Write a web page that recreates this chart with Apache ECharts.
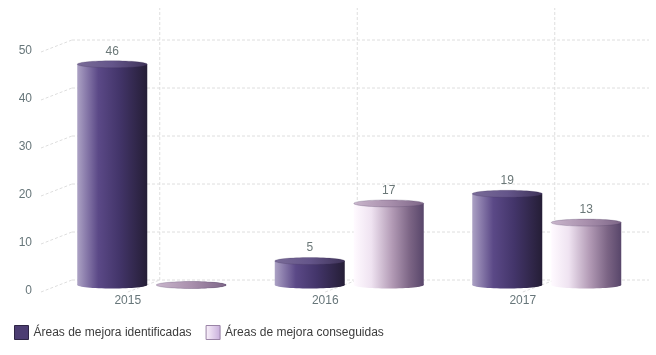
<!DOCTYPE html>
<html><head><meta charset="utf-8">
<script src="https://cdn.jsdelivr.net/npm/echarts@6/dist/echarts.min.js"></script>
<style>html,body{margin:0;padding:0;background:#fff}#c{width:656px;height:355px}</style>
</head><body><div id="c"></div>
<script>
const categories = ['2015', '2016', '2017'];
const identificadas = [46, 5, 19];
const conseguidas = [0, 17, 13];
const yTicks = [0, 10, 20, 30, 40, 50];
const seriesNames = ['Áreas de mejora identificadas', 'Áreas de mejora conseguidas'];

const FONT = '"Liberation Sans", Arial, sans-serif';
const DX = 31, DY = -11;            // depth offset of back wall
const GRID_LINE = {stroke: '#dedede', lineWidth: 1, lineDash: [3, 2]};

function grad(stops) {
  return new echarts.graphic.LinearGradient(0, 0, 1, 0, stops.map((c) => ({offset: c[0], color: c[1]})));
}
const body1 = () => grad([[0, '#aca2c4'], [0.12, '#8b7dac'], [0.3, '#5b4987'], [0.6, '#43356a'], [1, '#251e36']]);
const body2 = () => grad([[0, '#fffaff'], [0.25, '#efe3f1'], [0.55, '#b29ab5'], [0.8, '#7c6585'], [1, '#58466a']]);
const top1 = () => grad([[0, '#7a6c98'], [0.5, '#64558a'], [1, '#3e3358']]);
const top2 = () => grad([[0, '#c9b6cc'], [0.5, '#a990ad'], [1, '#7d6687']]);

function wallRender(params, api) {
  const cs = params.coordSys;
  const y = api.coord([0, api.value(0)])[1];
  const x0 = cs.x + 12, x1 = x0 + DX, x2 = cs.x + cs.width + 27.5;
  return {type: 'group', silent: true, children: [
    {type: 'line', shape: {x1: x0, y1: y + 1, x2: x1, y2: y + DY}, style: GRID_LINE},
    {type: 'line', shape: {x1: x1, y1: y + DY, x2: x2, y2: y + DY}, style: GRID_LINE}
  ]};
}
function vertRender(params, api) {
  const p = api.coord([api.value(0), 0]);
  const bx = p[0] + DX + 1, by = p[1] + DY;
  return {type: 'group', silent: true, children: [
    {type: 'line', shape: {x1: p[0], y1: p[1] + 1, x2: bx, y2: by}, style: GRID_LINE},
    {type: 'line', shape: {x1: bx, y1: by, x2: bx, y2: 8}, style: GRID_LINE}
  ]};
}
function cylRender(sign, bodyFn, topFn) {
  return function (params, api) {
    const i = api.value(0), v = api.value(1);
    const t = api.coord([i, v]), b = api.coord([i, 0]);
    const w = 70, gap = 9, ry = 3.5;
    const cx = t[0] + sign * (w + gap) / 2;
    const children = [
      {type: 'ellipse', shape: {cx: cx, cy: b[1], rx: w / 2, ry: ry}, style: {fill: bodyFn()}},
      {type: 'rect', shape: {x: cx - w / 2, y: t[1], width: w, height: b[1] - t[1]}, style: {fill: bodyFn()}},
      {type: 'ellipse', shape: {cx: cx, cy: t[1], rx: w / 2, ry: ry}, style: {fill: topFn(), stroke: 'rgba(60,45,80,0.35)', lineWidth: 0.6}}
    ];
    if (v !== 0) {
      children.push({type: 'text', x: cx, y: t[1] - 7, style: {text: String(v), fill: '#6b7878', font: '12px ' + FONT, align: 'center', verticalAlign: 'bottom'}});
    }
    return {type: 'group', children: children};
  };
}

const chart = echarts.init(document.getElementById('c'));
chart.setOption({
  animation: false,
  textStyle: {fontFamily: FONT},
  grid: [
    {left: 29, right: 34.5, top: 51, bottom: 64},
    {left: 53, right: 10.5, top: 45, bottom: 70}
  ],
  xAxis: [
    {gridIndex: 0, type: 'category', data: categories, axisLine: {show: false}, axisTick: {show: false},
     axisLabel: {margin: 4, color: '#67767a', fontSize: 12, fontFamily: FONT}, splitLine: {show: false}},
    {gridIndex: 1, type: 'category', data: categories, show: false}
  ],
  yAxis: [
    {gridIndex: 0, type: 'value', min: 0, max: 50, interval: 10, axisLine: {show: false}, axisTick: {show: false},
     splitLine: {show: false}, axisLabel: {margin: -3, color: '#67767a', fontSize: 12, fontFamily: FONT}},
    {gridIndex: 1, type: 'value', min: 0, max: 50, interval: 10, show: false}
  ],
  legend: {
    left: 9, top: 320, itemWidth: 14, itemHeight: 14, itemGap: 14, icon: 'rect',
    textStyle: {color: '#3c3c3c', fontSize: 12, fontFamily: FONT},
    data: [
      {name: seriesNames[0], itemStyle: {color: '#4c3d72', borderColor: '#2e2545', borderWidth: 1}},
      {name: seriesNames[1], itemStyle: {color: new echarts.graphic.LinearGradient(0, 0, 1, 0, [{offset: 0, color: '#fbf3fb'}, {offset: 1, color: '#c7addb'}]), borderColor: '#9a84a6', borderWidth: 1}}
    ]
  },
  series: [
    {type: 'custom', name: 'wall', xAxisIndex: 0, yAxisIndex: 0, silent: true, z: 1,
     data: yTicks.map(v => [v]), encode: {y: 0}, renderItem: wallRender},
    {type: 'custom', name: 'vert', xAxisIndex: 0, yAxisIndex: 0, silent: true, z: 1,
     data: categories.map((c, i) => [i]), encode: {x: 0}, renderItem: vertRender},
    {type: 'custom', name: seriesNames[0], xAxisIndex: 1, yAxisIndex: 1, z: 5,
     data: identificadas.map((v, i) => [i, v]), encode: {x: 0, y: 1},
     renderItem: cylRender(-1, body1, top1)},
    {type: 'custom', name: seriesNames[1], xAxisIndex: 1, yAxisIndex: 1, z: 5,
     data: conseguidas.map((v, i) => [i, v]), encode: {x: 0, y: 1},
     renderItem: cylRender(1, body2, top2)}
  ]
});
</script></body></html>
